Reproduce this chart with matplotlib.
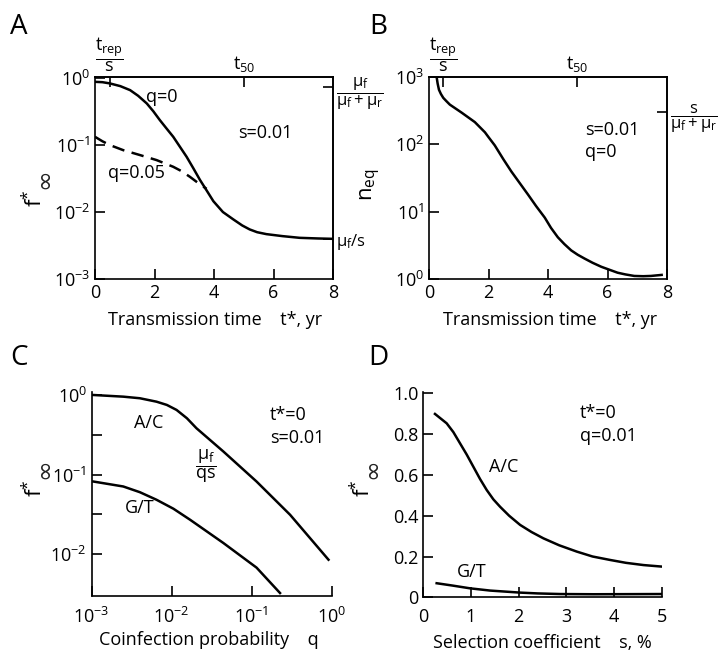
import matplotlib
matplotlib.use("Agg")
import matplotlib.pyplot as plt

FONT = "Open Sans"
plt.rcParams['font.family'] = [FONT, 'DejaVu Sans']
plt.rcParams['mathtext.fontset'] = 'custom'
plt.rcParams['mathtext.rm'] = FONT
plt.rcParams['mathtext.it'] = FONT
plt.rcParams['mathtext.bf'] = FONT
plt.rcParams['mathtext.sf'] = FONT
plt.rcParams['axes.linewidth'] = 1.2

# ---------------- data ----------------
# Panel A: f*_inf vs transmission time
a_t_q0 = [0, 0.25, 0.5, 0.85, 1.18, 1.45, 1.74, 1.96, 2.18, 2.4, 2.63, 2.85, 3.08, 3.3,
          3.53, 3.75, 3.98, 4.3, 4.65, 4.95, 5.2, 5.45, 5.76, 6.3, 6.88, 7.5, 8.0]
a_f_q0 = [0.881, 0.87, 0.834, 0.76, 0.662, 0.545, 0.419, 0.320, 0.236, 0.178, 0.133,
          0.095, 0.0668, 0.0455, 0.0301, 0.0211, 0.0145, 0.0100, 0.00776, 0.0063,
          0.0055, 0.0050, 0.00468, 0.00437, 0.00412, 0.00403, 0.00398]
a_t_q005 = [0, 0.25, 0.5, 0.95, 1.51, 2.07, 2.63, 2.9, 3.19, 3.45, 3.75]
a_f_q005 = [0.133, 0.114, 0.100, 0.084, 0.071, 0.0597, 0.0474, 0.041, 0.0336, 0.0275, 0.0222]
a_top_ticks = [0.5, 5.0]
a_top_labels = [r'$\dfrac{t_{rep}}{s}$', r'$t_{50}$']
a_right_ticks = [0.73, 0.0039]
a_right_labels = [r'$\dfrac{μ_f}{μ_f+μ_r}$', r'$μ_f$/s']

# Panel B: n_eq vs transmission time
b_t = [0.24, 0.26, 0.29, 0.335, 0.40, 0.48, 0.58, 0.70, 1.10, 1.54, 1.88, 2.0, 2.21,
       2.5, 2.77, 3.33, 3.6, 3.89, 4.1, 4.33, 4.55, 4.78, 5.0, 5.23, 5.5, 5.79, 6.05,
       6.34, 6.6, 6.90, 7.2, 7.46, 7.82]
b_n = [1300, 977, 800, 646, 560, 490, 440, 389, 295, 214, 151, 128, 96.6,
       60, 39.4, 17.9, 12.1, 8.17, 5.75, 4.17, 3.3, 2.66, 2.29, 2.01, 1.74, 1.52, 1.38,
       1.24, 1.17, 1.11, 1.10, 1.11, 1.15]
b_top_ticks = [0.48, 4.98]
b_top_labels = [r'$\dfrac{t_{rep}}{s}$', r'$t_{50}$']
b_right_ticks = [304]
b_right_labels = [r'$\dfrac{s}{μ_f+μ_r}$']

# Panel C: f*_inf vs coinfection probability
c_q_ac = [0.00105, 0.00248, 0.0040, 0.00646, 0.0087, 0.0115, 0.0155, 0.0204, 0.0442,
          0.115, 0.302, 0.912]
c_f_ac = [1.0, 0.953, 0.91, 0.824, 0.75, 0.649, 0.51, 0.382, 0.195,
          0.0817, 0.0312, 0.0085]
c_q_gt = [0.00105, 0.00248, 0.0040, 0.00646, 0.0105, 0.0170, 0.0442, 0.115, 0.226]
c_f_gt = [0.0817, 0.0708, 0.060, 0.0482, 0.0372, 0.0270, 0.0138, 0.00676, 0.00324]

# Panel D: f*_inf vs selection coefficient (%)
d_s_ac = [0.245, 0.49, 0.63, 0.77, 0.91, 1.05, 1.19, 1.33, 1.47, 1.61, 1.8, 2.03, 2.27,
          2.52, 2.85, 3.22, 3.55, 3.92, 4.25, 4.62, 5.03]
d_f_ac = [0.899, 0.853, 0.81, 0.755, 0.70, 0.64, 0.58, 0.526, 0.48, 0.444, 0.40, 0.355,
          0.32, 0.289, 0.255, 0.224, 0.20, 0.183, 0.169, 0.158, 0.150]
d_s_gt = [0.28, 0.6, 0.98, 1.4, 2.03, 2.4, 2.87, 3.57, 5.0]
d_f_gt = [0.069, 0.058, 0.044, 0.033, 0.023, 0.019, 0.016, 0.015, 0.016]

# ---------------- figure ----------------
W, H = 719, 653
fig = plt.figure(figsize=(W / 100, H / 100), dpi=100)

def px_axes(l, t, r, b):
    return fig.add_axes([l / W, 1 - b / H, (r - l) / W, (b - t) / H])

LW = 1.8
FS = 13
TICK = dict(direction='in', length=7, width=1.2, labelsize=FS)

# ---- A ----
axA = px_axes(95, 77, 333, 279)
axA.plot(a_t_q0, a_f_q0, color='black', lw=LW)
axA.plot(a_t_q005, a_f_q005, color='black', lw=LW, dashes=(5, 3))
axA.set_yscale('log')
axA.set_xlim(0, 8)
axA.set_ylim(1e-3, 1.04)
axA.set_xticks([0, 2, 4, 6, 8])
axA.set_yticks([1e-3, 1e-2, 1e-1, 1e0])
axA.minorticks_off()
axA.tick_params(**TICK)
secA = axA.secondary_xaxis('top')
secA.set_xticks(a_top_ticks, labels=a_top_labels)
secA.tick_params(direction='in', length=7, width=1.2, labelsize=FS, pad=2)
secAr = axA.secondary_yaxis('right')
secAr.set_yticks(a_right_ticks, labels=a_right_labels)
secAr.minorticks_off()
secAr.tick_params(direction='in', length=7, width=1.2, labelsize=FS - 1, pad=2)
axA.text(2.25, 0.52, 'q=0', fontsize=FS, ha='center', va='center')
axA.text(5.71, 0.151, 's=0.01', fontsize=FS, ha='center', va='center')
axA.text(1.40, 0.038, 'q=0.05', fontsize=FS, ha='center', va='center')

# ---- B ----
axB = px_axes(429, 77, 667, 279)
axB.plot(b_t, b_n, color='black', lw=LW)
axB.set_yscale('log')
axB.set_xlim(0, 8)
axB.set_ylim(1.08, 973)
axB.set_xticks([0, 2, 4, 6, 8])
axB.set_yticks([1e0, 1e1, 1e2, 1e3])
axB.minorticks_off()
axB.tick_params(**TICK)
secB = axB.secondary_xaxis('top')
secB.set_xticks(b_top_ticks, labels=b_top_labels)
secB.tick_params(direction='in', length=7, width=1.2, labelsize=FS, pad=2)
secBr = axB.secondary_yaxis('right')
secBr.set_yticks(b_right_ticks, labels=b_right_labels)
secBr.minorticks_off()
secBr.tick_params(direction='in', length=7, width=1.2, labelsize=FS - 1, pad=2)
axB.text(5.24, 166, 's=0.01', fontsize=FS, ha='left', va='center')
axB.text(5.24, 77, 'q=0', fontsize=FS, ha='left', va='center')

# ---- C ----
axC = px_axes(91.7, 391.7, 331.7, 595.7)
axC.plot(c_q_ac, c_f_ac, color='black', lw=LW)
axC.plot(c_q_gt, c_f_gt, color='black', lw=LW)
axC.set_xscale('log')
axC.set_yscale('log')
axC.set_xlim(1e-3, 1)
axC.set_ylim(0.0030, 1.1)
axC.set_xticks([1e-3, 1e-2, 1e-1, 1e0])
axC.set_yticks([1e-2, 1e-1, 1e0])
axC.set_yticks([10 ** -0.5, 10 ** -1.5], minor=True)
axC.xaxis.set_minor_locator(matplotlib.ticker.NullLocator())
axC.tick_params(**TICK)
axC.tick_params(which='minor', direction='in', length=7, width=1.2, labelleft=False)
axC.tick_params(axis='x', pad=8)
for s in ('top', 'right'):
    axC.spines[s].set_visible(False)
axC.text(0.0052, 0.44, 'A/C', fontsize=FS, ha='center', va='center')
axC.text(0.0263, 0.126, r'$\dfrac{μ_f}{qs}$', fontsize=FS, ha='center', va='center')
axC.text(0.17, 0.561, 't*=0', fontsize=FS, ha='left', va='center')
axC.text(0.17, 0.286, 's=0.01', fontsize=FS, ha='left', va='center')
axC.text(0.004, 0.038, 'G/T', fontsize=FS, ha='center', va='center')

# ---- D ----
axD = px_axes(423.3, 391.7, 661.7, 597.3)
axD.plot(d_s_ac, d_f_ac, color='black', lw=LW)
axD.plot(d_s_gt, d_f_gt, color='black', lw=LW)
axD.set_xlim(0, 5)
axD.set_ylim(0, 1.008)
axD.set_xticks([0, 1, 2, 3, 4, 5])
axD.set_yticks([0, 0.2, 0.4, 0.6, 0.8, 1.0], labels=['0', '0.2', '0.4', '0.6', '0.8', '1.0'])
axD.tick_params(**TICK)
axD.tick_params(axis='x', pad=8)
for s in ('top', 'right'):
    axD.spines[s].set_visible(False)
axD.text(3.29, 0.903, 't*=0', fontsize=FS, ha='left', va='center')
axD.text(3.29, 0.79, 'q=0.01', fontsize=FS, ha='left', va='center')
axD.text(1.69, 0.64, 'A/C', fontsize=FS, ha='center', va='center')
axD.text(1.01, 0.125, 'G/T', fontsize=FS, ha='center', va='center')

# ---- labels in figure pixels ----
def ftext(x, y, s, **kw):
    fig.text(x / W, 1 - y / H, s, **kw)

for (x, y, s) in [(19, 27, 'A'), (378, 27, 'B'), (19, 358, 'C'), (378, 358, 'D')]:
    ftext(x, y, s, fontsize=20, ha='center', va='center')

def flabel(x, y):
    # "f*" with a full-size infinity sign set off as a subscript
    ftext(x, y, r'f$^{*}$', fontsize=FS + 3, rotation=90, ha='center', va='center')
    ftext(x + 9, y - 19, '∞', fontsize=FS + 5, rotation=90, ha='center', va='center',
          color='#222222', family='DejaVu Sans')

flabel(35, 198)
flabel(35, 488)
flabel(363, 488)
ftext(371, 185, r'$n_{eq}$', fontsize=FS + 3, rotation=90, ha='center', va='center')

ftext(215, 320, 'Transmission time    t*, yr', fontsize=FS, ha='center', va='center')
ftext(550, 320, 'Transmission time    t*, yr', fontsize=FS, ha='center', va='center')
ftext(209, 640, 'Coinfection probability    q', fontsize=FS, ha='center', va='center')
ftext(542, 643, 'Selection coefficient    s, %', fontsize=FS, ha='center', va='center')

fig.savefig('out.png', dpi=100)
